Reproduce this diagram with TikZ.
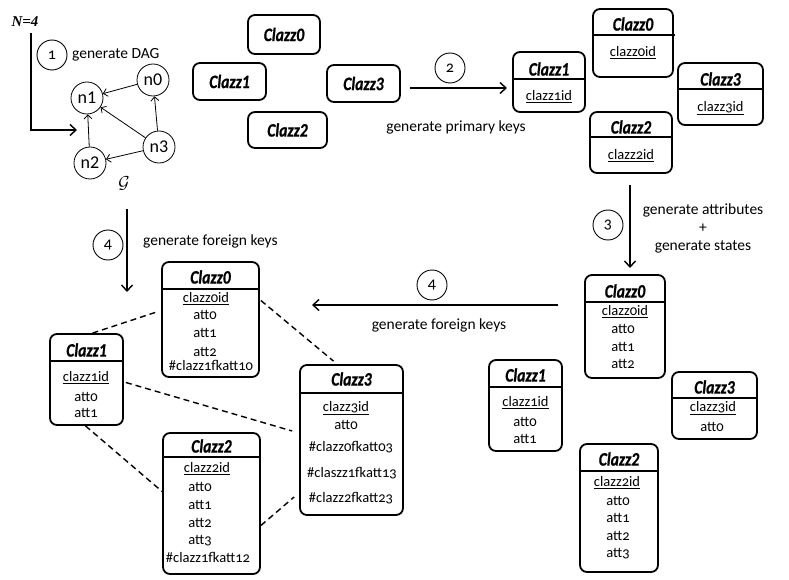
\documentclass[tikz,border=0pt]{standalone}
\usepackage{fontspec}
\setmainfont{Carlito}[Numbers=OldStyle]
\newfontfamily\dagfont{Carlito}
\newfontfamily\ttlfont{Carlito}[Numbers=Lining, FakeStretch=0.82, BoldItalicFeatures={FakeBold=0.8}]
\newfontfamily\serifbi{Liberation Serif}
\usetikzlibrary{arrows.meta}
\tikzset{
  cbox/.style={draw, line width=1.8pt, rounded corners=7pt, inner sep=0pt},
  ttl/.style={font=\ttlfont\fontsize{19}{19}\selectfont\bfseries\itshape, inner sep=0pt},
  att/.style={font=\fontsize{14.5}{14.5}\selectfont, inner sep=0pt},
  numcirc/.style={draw, circle, line width=0.9pt, minimum size=30pt, inner sep=0pt, font=\fontsize{16}{16}\selectfont},
  dagn/.style={draw, circle, line width=0.8pt, minimum size=32pt, inner sep=0pt, font=\dagfont\fontsize{18}{18}\selectfont},
  flow/.style={line width=1.4pt, -{Straight Barb[length=6pt,width=11pt]}},
  dagedge/.style={line width=0.8pt, -{Straight Barb[length=4pt,width=8pt]}},
  fk/.style={line width=1.4pt, dash pattern=on 6pt off 4pt},
  lbl/.style={font=\fontsize{15.5}{18}\selectfont, inner sep=0pt, align=center},
  divider/.style={line width=1.8pt},
}
% name, x1, y1, x2, y2
\newcommand\umlframe[5]{%
  \node[cbox, minimum width={#4pt-#2pt}, minimum height={#5pt-#3pt}] (#1) at ({(#2+#4)/2},{(#3+#5)/2}) {};}
\newcommand\umldiv[3]{\draw[divider] (#1,#3) -- (#2,#3);}
\begin{document}
\begin{tikzpicture}[x=1pt,y=-1pt]
\useasboundingbox (0,0) rectangle (789,580);

% ---- step 1: DAG
\node[font=\serifbi\bfseries\itshape\fontsize{15}{15}\selectfont, inner sep=0pt] (N4) at (25,22) {N=4};
\coordinate (dagin) at (77,130);
\draw[flow] ([xshift=6pt,yshift=-6pt]N4.south) |- (dagin);
\node[numcirc] (c1) at (52,55) {1};
\node[lbl, anchor=west] (l1) at (72,55) {generate DAG};
\node[dagn] (n1) at (87,98) {n1};
\node[dagn] (n0) at (153,80) {n0};
\node[dagn] (n3) at (159,147) {n3};
\node[dagn] (n2) at (90,163) {n2};
\draw[dagedge] (n0) -- (n1);
\draw[dagedge] (n3) -- (n1);
\draw[dagedge] (n3) -- (n0);
\draw[dagedge] (n3) -- (n2);
\draw[dagedge] (n2) -- (n1);
\node[inner sep=0pt, font=\fontsize{17}{17}\selectfont] (G) at (124,183) {$\mathcal{G}$};

% ---- plain classes
\node[cbox, ttl, minimum width=72pt, minimum height=39pt] (A0) at (284,34.5) {Clazz0};
\node[cbox, ttl, minimum width=73pt, minimum height=37pt] (A1) at (229.5,81.5) {Clazz1};
\node[cbox, ttl, minimum width=73pt, minimum height=37pt] (A3) at (363.5,83.5) {Clazz3};
\node[cbox, ttl, minimum width=79pt, minimum height=36pt] (A2) at (287.5,130) {Clazz2};

% ---- step 2
\coordinate (a2s) at (410,88);
\coordinate (a2e) at (507,88);
\draw[flow] (a2s) -- (a2e);
\node[numcirc] (c2) at (450,68) {2};
\node[lbl] (l2) at (456,127) {generate primary keys};

\umlframe{B1}{513}{52}{585}{112}\umldiv{513}{585}{79}
\node[ttl] (B1t) at (549,69) {Clazz1};
\node[att] (B1a) at (549,97) {\underline{clazz1id}};
\umlframe{B0}{593}{9}{673}{77}\umldiv{593}{675}{35}
\node[ttl] (B0t) at (633,24) {Clazz0};
\node[att] (B0a) at (633,53) {\underline{clazz0id}};
\umlframe{B3}{678}{63}{763}{125}\umldiv{678}{763}{89}
\node[ttl] (B3t) at (720.5,79) {Clazz3};
\node[att] (B3a) at (720.5,108) {\underline{clazz3id}};
\umlframe{B2}{590}{112}{672}{173}\umldiv{590}{673}{137}
\node[ttl] (B2t) at (631,127) {Clazz2};
\node[att] (B2a) at (631,156) {\underline{clazz2id}};

% ---- step 3
\coordinate (a3s) at (630,185);
\coordinate (a3e) at (630,268);
\draw[flow] (a3s) -- (a3e);
\node[numcirc] (c3) at (608,225) {3};
\node[lbl] (l3) at (703,228) {generate attributes\\+\\generate states};

\umlframe{C0}{585}{275}{665}{378}\umldiv{585}{665}{302}
\node[ttl] (C0t) at (625,291) {Clazz0};
\node[att] (C0a) at (625,312) {\underline{clazz0id}};
\node[att] (C0b) at (623,329) {att0};
\node[att] (C0c) at (623,347) {att1};
\node[att] (C0d) at (623,364) {att2};

\umlframe{C1}{489}{360}{562}{451}\umldiv{489}{562}{387}
\node[ttl] (C1t) at (525.5,375) {Clazz1};
\node[att] (C1a) at (525.5,403) {\underline{clazz1id}};
\node[att] (C1b) at (525,422) {att0};
\node[att] (C1c) at (525,439) {att1};

\umlframe{C3}{672}{372}{757}{439}\umldiv{672}{757}{398}
\node[ttl] (C3t) at (714.5,387) {Clazz3};
\node[att] (C3a) at (713,408) {\underline{clazz3id}};
\node[att] (C3b) at (712,427) {att0};

\umlframe{C2}{580}{444}{658}{572}\umldiv{580}{658}{471}
\node[ttl] (C2t) at (619,459) {Clazz2};
\node[att] (C2a) at (617,483) {\underline{clazz2id}};
\node[att] (C2b) at (618,501) {att0};
\node[att] (C2c) at (618,518) {att1};
\node[att] (C2d) at (618,536) {att2};
\node[att] (C2e) at (618,554) {att3};

% ---- step 4
\coordinate (a4s) at (558,305);
\coordinate (a4e) at (312,305);
\draw[flow] (a4s) -- (a4e);
\node[numcirc] (c4a) at (432,285) {4};
\node[lbl] (l4a) at (439,325) {generate foreign keys};

\coordinate (a5s) at (127,209);
\coordinate (a5e) at (127,292);
\draw[flow] (a5s) -- (a5e);
\node[numcirc] (c4b) at (108,245) {4};
\node[lbl, anchor=west] (l4b) at (143,241) {generate foreign keys};

\umlframe{D0}{162}{262}{259}{377}\umldiv{162}{259}{289}
\node[ttl] (D0t) at (210.5,277) {Clazz0};
\node[att] (D0a) at (206,299) {\underline{clazz0id}};
\node[att] (D0b) at (205,315) {att0};
\node[att] (D0c) at (205,333) {att1};
\node[att] (D0d) at (205,352) {att2};
\node[att] (D0e) at (211,365) {\#clazz1fkatt10};

\umlframe{D1}{50}{334}{123}{425}\umldiv{50}{123}{361}
\node[ttl] (D1t) at (86.5,350) {Clazz1};
\node[att] (D1a) at (86,378) {\underline{clazz1id}};
\node[att] (D1b) at (86,397) {att0};
\node[att] (D1c) at (86,413) {att1};

\umlframe{D3}{300}{365}{403}{515}\umldiv{300}{403}{393}
\node[ttl] (D3t) at (351.5,379) {Clazz3};
\node[att] (D3a) at (346,408) {\underline{clazz3id}};
\node[att] (D3b) at (346,425) {att0};
\node[att] (D3c) at (351,447) {\#clazz0fkatt03};
\node[att] (D3d) at (352,473) {\#claszz1fkatt13};
\node[att] (D3e) at (351,498) {\#clazz2fkatt23};

\umlframe{D2}{163}{433}{260}{574}\umldiv{163}{260}{457}
\node[ttl] (D2t) at (211.5,446) {Clazz2};
\node[att] (D2a) at (207,469) {\underline{clazz2id}};
\node[att] (D2b) at (200,487) {att0};
\node[att] (D2c) at (200,505) {att1};
\node[att] (D2d) at (200,523) {att2};
\node[att] (D2e) at (200,541) {att3};
\node[att] (D2f) at (208,557) {\#clazz1fkatt12};

% ---- foreign key links
\draw[fk] ([xshift=6pt]D1.north) -- ([yshift=8pt,xshift=-3pt]D0.west);
\draw[fk] ([yshift=19pt,xshift=1pt]D0.east) -- ([xshift=-18pt,yshift=3pt]D3.north);
\draw[fk] ([yshift=-3pt,xshift=2pt]D1.east) -- ([yshift=9pt,xshift=-7pt]D3.west);
\draw[fk] ([xshift=-1pt]D1.south) -- ([yshift=12pt]D2.west);
\draw[fk] ([yshift=-22pt]D2.east) -- ([yshift=-57pt,xshift=-5pt]D3.west);
\end{tikzpicture}
\end{document}
